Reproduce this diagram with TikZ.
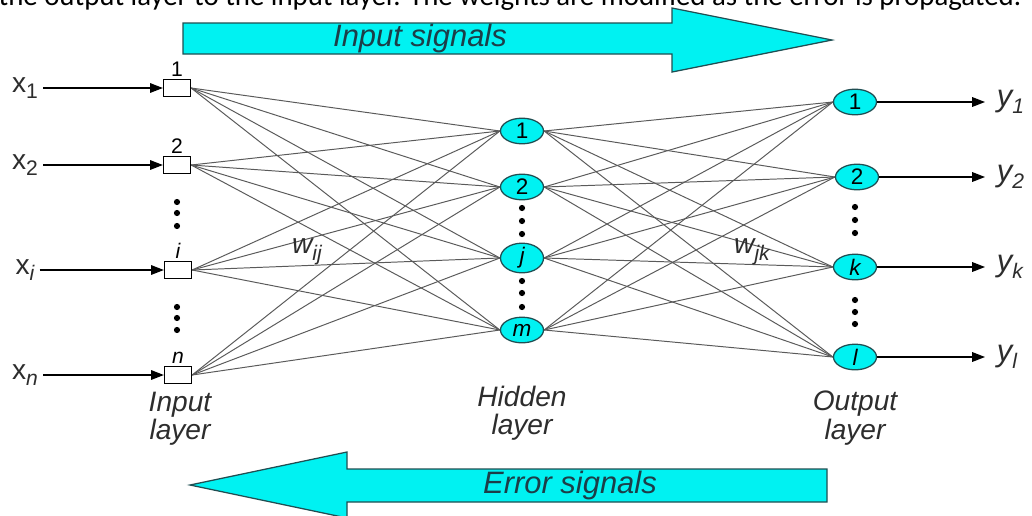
\documentclass[tikz,border=0pt]{standalone}
\usepackage{fontspec}
\setmainfont{Liberation Sans}
\newfontfamily\capfont{Carlito}
\usetikzlibrary{positioning, shapes.geometric, arrows.meta}

% lowered subscript in the label font
\newcommand{\lowsub}[1]{\raisebox{-0.45ex}{\fontsize{15}{15}\selectfont #1}}

\begin{document}
\begin{tikzpicture}[x=0.025cm, y=-0.025cm, >={Triangle[length=3.2mm,width=2.4mm]}, line width=0.9pt]
    % Define colors
    \definecolor{sigcyan}{RGB}{0,242,242}
    \definecolor{sigedge}{RGB}{32,78,82}
    \definecolor{sigtext}{RGB}{28,62,72}
    \definecolor{wiregray}{RGB}{90,90,90}
    \definecolor{labelgray}{RGB}{45,45,45}

    \useasboundingbox (0,0) rectangle (1032,515);

    % Caption line, cut by the top edge
    \node[anchor=base west, inner sep=0pt, font=\capfont\fontsize{20.5}{22}\selectfont] (caption) at (-2,5) {the output layer to the input layer. The weights are modified as the error is propagated.};

    % Signal arrows
    \draw[sigedge, fill=sigcyan] (183,23) -- (672,23) -- (672,8) -- (832,40) -- (672,72) -- (672,54) -- (183,54) -- cycle;
    \node[text=sigtext, font=\fontsize{22}{24}\selectfont\itshape] (insig) at (420,38) {Input signals};
    \draw[sigedge, fill=sigcyan] (827,469) -- (347,469) -- (347,452) -- (190,485) -- (347,518) -- (347,502) -- (827,502) -- cycle;
    \node[text=sigtext, font=\fontsize{22}{24}\selectfont\itshape] (errsig) at (570,485) {Error signals};

    % Input layer
    \node[draw, rectangle, minimum width=0.675cm, minimum height=0.425cm, inner sep=0pt] (in1) at (177,88) {};
    \node[draw, rectangle, minimum width=0.675cm, minimum height=0.425cm, inner sep=0pt] (in2) at (177,165) {};
    \node[draw, rectangle, minimum width=0.675cm, minimum height=0.425cm, inner sep=0pt] (in3) at (178,270) {};
    \node[draw, rectangle, minimum width=0.675cm, minimum height=0.425cm, inner sep=0pt] (in4) at (178,375) {};
    \node[above=1.5pt of in1, inner sep=0pt, font=\fontsize{15}{15}\selectfont] (num1) {1};
    \node[above=1.5pt of in2, inner sep=0pt, font=\fontsize{15}{15}\selectfont] (num2) {2};
    \node[above=1.5pt of in3, inner sep=0pt, font=\fontsize{15}{15}\selectfont\itshape] (num3) {i};
    \node[above=1.5pt of in4, inner sep=0pt, font=\fontsize{15}{15}\selectfont\itshape] (num4) {n};

    \node[font=\fontsize{20}{20}\selectfont, text=labelgray] (x1) at (25,88) {x\lowsub{1}};
    \node[font=\fontsize{20}{20}\selectfont, text=labelgray] (x2) at (25,165) {x\lowsub{2}};
    \node[font=\fontsize{20}{20}\selectfont, text=labelgray] (x3) at (25,270) {x\lowsub{\itshape i}};
    \node[font=\fontsize{20}{20}\selectfont, text=labelgray] (x4) at (25,375) {x\lowsub{\itshape n}};
    \foreach \i in {1,...,4} {
        \draw[->] (x\i.east |- in\i.west) -- (in\i.west);
    }

    % Hidden layer
    \node[draw=sigedge, fill=sigcyan, ellipse, minimum width=1.075cm, minimum height=0.64cm, inner sep=0pt, font=\fontsize{16}{16}\selectfont] (hid1) at (522,131) {1};
    \node[draw=sigedge, fill=sigcyan, ellipse, minimum width=1.075cm, minimum height=0.64cm, inner sep=0pt, font=\fontsize{16}{16}\selectfont] (hid2) at (522,187) {2};
    \node[draw=sigedge, fill=sigcyan, ellipse, minimum width=1.075cm, minimum height=0.64cm, inner sep=0pt, font=\fontsize{16}{16}\selectfont\itshape] (hid3) at (522,258) {j};
    \node[draw=sigedge, fill=sigcyan, ellipse, minimum width=1.075cm, minimum height=0.64cm, inner sep=0pt, font=\fontsize{16}{16}\selectfont\itshape] (hid4) at (522,330) {m};

    % Output layer
    \node[draw=sigedge, fill=sigcyan, ellipse, minimum width=1.075cm, minimum height=0.64cm, inner sep=0pt, font=\fontsize{16}{16}\selectfont] (out1) at (855,102) {1};
    \node[draw=sigedge, fill=sigcyan, ellipse, minimum width=1.075cm, minimum height=0.64cm, inner sep=0pt, font=\fontsize{16}{16}\selectfont] (out2) at (857,177) {2};
    \node[draw=sigedge, fill=sigcyan, ellipse, minimum width=1.075cm, minimum height=0.64cm, inner sep=0pt, font=\fontsize{16}{16}\selectfont\itshape] (out3) at (855,267) {k};
    \node[draw=sigedge, fill=sigcyan, ellipse, minimum width=1.075cm, minimum height=0.64cm, inner sep=0pt, font=\fontsize{16}{16}\selectfont\itshape] (out4) at (855,357) {l};

    \node[anchor=west, inner xsep=8pt, font=\fontsize{22}{22}\selectfont\itshape, text=labelgray] (y1) at (985,102) {y\lowsub{1}};
    \node[anchor=west, inner xsep=8pt, font=\fontsize{22}{22}\selectfont\itshape, text=labelgray] (y2) at (985,177) {y\lowsub{2}};
    \node[anchor=west, inner xsep=8pt, font=\fontsize{22}{22}\selectfont\itshape, text=labelgray] (y3) at (985,267) {y\lowsub{k}};
    \node[anchor=west, inner xsep=8pt, font=\fontsize{22}{22}\selectfont\itshape, text=labelgray] (y4) at (985,357) {y\lowsub{l}};
    \foreach \k in {1,...,4} {
        \draw[->] (out\k.east) -- (y\k.west |- out\k.east);
    }

    % Weights
    \foreach \i in {1,...,4} {
        \foreach \j in {1,...,4} {
            \draw[wiregray, line width=0.7pt] (in\i.east) -- (hid\j.west);
            \draw[wiregray, line width=0.7pt] (hid\i.east) -- (out\j.west);
        }
    }
    \node[font=\fontsize{20}{20}\selectfont\itshape, text=labelgray] (wij) at (307,252) {w\lowsub{ij}};
    \node[font=\fontsize{20}{20}\selectfont\itshape, text=labelgray] (wjk) at (752,252) {w\lowsub{jk}};

    % Dots
    \foreach \y in {202,213,226,307,318,330} {
        \fill (177,\y) circle[radius=2.2pt];
    }
    \foreach \y in {208,221,234,281,293,307} {
        \fill (522,\y) circle[radius=2.2pt];
    }
    \foreach \y in {207,220,233,300,312,324} {
        \fill (855,\y) circle[radius=2.2pt];
    }

    % Layer names
    \node[align=center, font=\fontsize{20}{20}\selectfont\itshape, text=labelgray] (inname) at (180,419) {Input\\layer};
    \node[align=center, font=\fontsize{20}{20}\selectfont\itshape, text=labelgray] (hidname) at (522,413) {Hidden\\layer};
    \node[align=center, font=\fontsize{20}{21}\selectfont\itshape, text=labelgray] (outname) at (855,418) {Output\\layer};
\end{tikzpicture}
\end{document}
